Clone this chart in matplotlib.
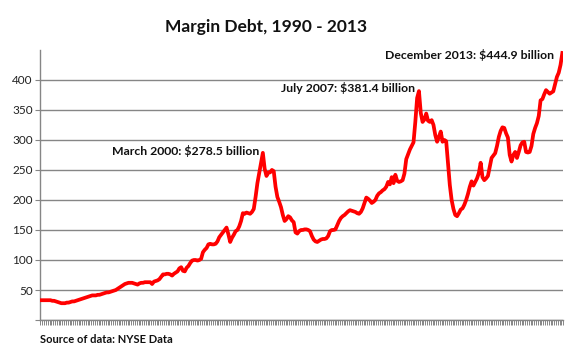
import matplotlib.pyplot as plt
import numpy as np

plt.rcParams['font.family'] = ['Lato', 'DejaVu Sans']

# monthly NYSE margin debt, billions of dollars, Jan 1990 - Dec 2013
y1990 = [33, 33, 33, 33, 33, 33, 32, 32, 31, 30, 29, 28]
y1991 = [28, 28, 29, 29, 30, 31, 31, 32, 33, 34, 35, 36]
y1992 = [37, 38, 39, 40, 41, 41, 41, 42, 42, 43, 44, 45]
y1993 = [46, 46, 47, 48, 49, 50, 52, 54, 56, 58, 60, 61]
y1994 = [62, 62, 62, 61, 60, 59, 61, 62, 62, 63, 63, 63]
y1995 = [63, 60, 64, 65, 66, 68, 72, 76, 76, 77, 77, 76]
y1996 = [74, 77, 79, 81, 86, 88, 82, 81, 87, 90, 95, 99]
y1997 = [100, 100, 99, 100, 102, 113, 117, 120, 126, 127, 126, 126]
y1998 = [127, 131, 138, 142, 146, 150, 154, 143, 130, 137, 142, 148]
y1999 = [150, 156, 165, 178, 177, 179, 178, 177, 180, 185, 205, 228]
y2000 = [245, 262, 278.5, 252, 240, 246, 246, 250, 248, 222, 205, 197]
y2001 = [188, 175, 165, 168, 173, 171, 166, 163, 146, 144, 148, 150]
y2002 = [150, 151, 151, 150, 148, 140, 134, 131, 130, 132, 134, 135]
y2003 = [135, 136, 140, 148, 150, 150, 151, 158, 165, 170, 173, 175]
y2004 = [178, 181, 183, 182, 181, 180, 178, 177, 180, 186, 195, 204]
y2005 = [202, 199, 195, 197, 200, 207, 211, 213, 216, 218, 222, 230]
y2006 = [226, 238, 228, 242, 232, 230, 231, 233, 244, 268, 276, 284]
y2007 = [290, 296, 330, 370, 381.4, 345, 330, 334, 344, 332, 330, 333]
y2008 = [325, 308, 297, 305, 314, 297, 300, 298, 262, 225, 200, 185]
y2009 = [175, 173, 178, 184, 186, 192, 200, 210, 222, 231, 224, 230]
y2010 = [236, 245, 262, 238, 233, 236, 240, 255, 270, 274, 278, 290]
y2011 = [305, 315, 321, 320, 311, 304, 275, 264, 275, 280, 270, 280]
y2012 = [291, 296, 297, 280, 279, 280, 290, 310, 320, 328, 340, 366]
y2013 = [368, 376, 383, 380, 377, 379, 381, 393, 405, 412, 425, 444.9]

debt = np.array(y1990 + y1991 + y1992 + y1993 + y1994 + y1995 + y1996 + y1997
                + y1998 + y1999 + y2000 + y2001 + y2002 + y2003 + y2004 + y2005
                + y2006 + y2007 + y2008 + y2009 + y2010 + y2011 + y2012 + y2013)
months = np.arange(len(debt))

labels = ['March 2000: $278.5 billion', 'July 2007: $381.4 billion',
          'December 2013: $444.9 billion']
peak_ranges = [(108, 144), (192, 228), (276, 288)]

fig = plt.figure(figsize=(5.67, 3.54), dpi=100)
ax = fig.add_axes([0.0714, 0.096, 0.922, 0.763])

ax.plot(months, debt, color='#ff0000', lw=2.7, solid_joinstyle='round', zorder=3)

ax.set_xlim(-0.5, len(debt) - 0.5)
ax.set_ylim(0, 450)

grey = '#868686'
ax.set_yticks(np.arange(0, 401, 50))
ax.set_yticklabels([''] + [str(v) for v in range(50, 401, 50)])
ax.set_xticks(np.arange(-0.5, len(debt), 1))
ax.set_xticklabels([])
ax.tick_params(axis='x', length=3.5, width=0.7, color=grey, direction='out')
ax.tick_params(axis='y', length=3.5, width=0.8, color=grey, labelsize=8.5,
               labelcolor='#222222', pad=2)
ax.yaxis.grid(True, color=grey, lw=1)
ax.set_axisbelow(True)
for s in ['top', 'right']:
    ax.spines[s].set_visible(False)
for s in ['left', 'bottom']:
    ax.spines[s].set_color(grey)
    ax.spines[s].set_linewidth(1)

offsets = [(-4, 2), (-4, 3), (-8, -2)]
for lab, (a, b), off in zip(labels, peak_ranges, offsets):
    i = a + int(np.argmax(debt[a:b]))
    ax.annotate(lab, xy=(months[i], debt[i]), xytext=off, textcoords='offset pixels',
                ha='right', va='center', fontsize=8.8, fontweight='bold',
                color='#111111')

fig.text(0.47, 0.924, 'Margin Debt, 1990 - 2013', ha='center', va='center',
         fontsize=12.5, fontweight='bold', color='#111111')
fig.text(0.071, 0.042, 'Source of data: NYSE Data', ha='left', va='center',
         fontsize=8, fontweight='bold', color='#111111')

fig.savefig('out.png', dpi=100)
